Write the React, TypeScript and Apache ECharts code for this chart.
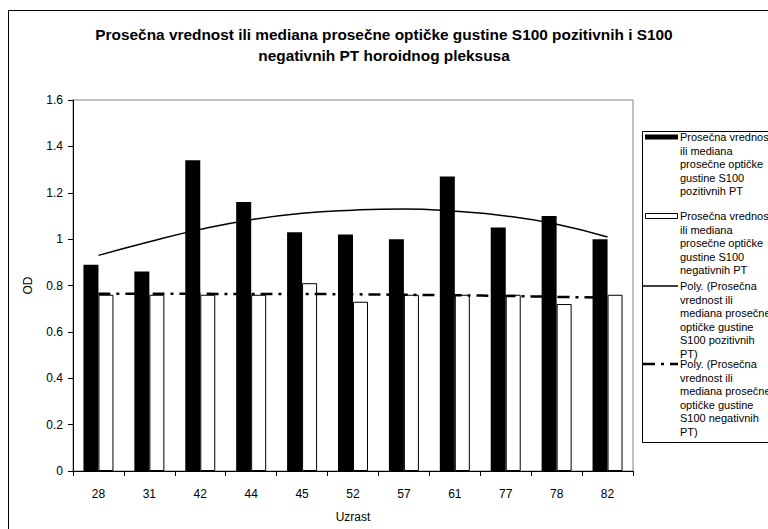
import React, { useEffect, useRef } from "react";
import * as echarts from "echarts";

const categories = ["28", "31", "42", "44", "45", "52", "57", "61", "77", "78", "82"];
const positiveValues = [0.89, 0.86, 1.34, 1.16, 1.03, 1.02, 1.0, 1.27, 1.05, 1.1, 1.0];
const negativeValues = [0.76, 0.76, 0.76, 0.76, 0.81, 0.73, 0.76, 0.76, 0.76, 0.72, 0.76];
const positiveTrend = [0.93, 0.989, 1.042, 1.084, 1.112, 1.125, 1.13, 1.12, 1.1, 1.064, 1.009];
const negativeTrend = [0.764, 0.764, 0.764, 0.763, 0.763, 0.762, 0.76, 0.758, 0.755, 0.751, 0.747];

const titleText =
  "Prosečna vrednost ili mediana prosečne optičke gustine S100 pozitivnih i S100\nnegativnih PT horoidnog pleksusa";
const legendTexts = [
  "Prosečna vrednost\nili mediana\nprosečne optičke\ngustine S100\npozitivnih PT",
  "Prosečna vrednost\nili mediana\nprosečne optičke\ngustine S100\nnegativnih PT",
  "Poly. (Prosečna\nvrednost ili\nmediana prosečne\noptičke gustine\nS100 pozitivnih\nPT)",
  "Poly. (Prosečna\nvrednost ili\nmediana prosečne\noptičke gustine\nS100 negativnih\nPT)",
];

const FONT = "'Liberation Sans', Arial, sans-serif";
const DASH = [12, 6, 3, 6];

export default function App() {
  const ref = useRef<HTMLDivElement>(null);
  useEffect(() => {
    if (!ref.current) return;
    const chart = echarts.init(ref.current, undefined, { renderer: "svg" });
    const LH = 13.5;
    const starts = [137, 216, 286, 364];
    const legendGraphics: any[] = [
      {
        type: "rect",
        shape: { x: 642.5, y: 131.5, width: 200, height: 311 },
        style: { fill: "#fff", stroke: "#000", lineWidth: 1 },
        z: 10,
      },
      {
        type: "rect",
        shape: { x: 645, y: starts[0] - 2.5, width: 33, height: 5 },
        style: { fill: "#000" },
        z: 11,
      },
      {
        type: "rect",
        shape: { x: 645.5, y: starts[1] - 2.5, width: 32, height: 5 },
        style: { fill: "#fff", stroke: "#000", lineWidth: 1 },
        z: 11,
      },
      {
        type: "line",
        shape: { x1: 643, y1: starts[2], x2: 678, y2: starts[2] },
        style: { stroke: "#000", lineWidth: 1.5 },
        z: 11,
      },
      {
        type: "line",
        shape: { x1: 643, y1: starts[3], x2: 678, y2: starts[3] },
        style: { stroke: "#000", lineWidth: 2.5, lineDash: DASH },
        z: 11,
      },
    ];
    legendTexts.forEach((t, i) => {
      legendGraphics.push({
        type: "text",
        x: 680,
        y: starts[i] - LH / 2,
        z: 11,
        style: {
          text: t,
          fill: "#000",
          fontSize: 11,
          fontFamily: FONT,
          lineHeight: LH,
          verticalAlign: "top",
          align: "left",
        },
      });
    });

    chart.setOption({
      animation: false,
      backgroundColor: "#fff",
      title: {
        text: titleText,
        left: "center",
        top: 24,
        padding: 0,
        textStyle: {
          fontSize: 15.4,
          fontWeight: "bold",
          lineHeight: 21,
          color: "#000",
          fontFamily: FONT,
          align: "center",
        },
      },
      grid: {
        left: 73,
        top: 100,
        width: 560,
        height: 371,
        show: true,
        borderColor: "#808080",
        borderWidth: 1,
        backgroundColor: "#fff",
      },
      xAxis: {
        type: "category",
        data: categories,
        name: "Uzrast",
        nameLocation: "middle",
        nameGap: 40,
        nameTextStyle: { fontSize: 12, color: "#000", fontFamily: FONT },
        axisLine: { lineStyle: { color: "#000", width: 1 } },
        axisTick: { show: true, length: 5, lineStyle: { color: "#000" } },
        axisLabel: { fontSize: 12, color: "#000", fontFamily: FONT, margin: 17 },
        splitLine: { show: false },
      },
      yAxis: {
        type: "value",
        min: 0,
        max: 1.6,
        interval: 0.2,
        name: "OD",
        nameLocation: "middle",
        nameGap: 39,
        nameRotate: 90,
        nameTextStyle: { fontSize: 12, color: "#000", fontFamily: FONT },
        axisLine: { show: true, lineStyle: { color: "#000", width: 1 } },
        axisTick: { show: true, length: 5, lineStyle: { color: "#000" } },
        axisLabel: {
          fontSize: 12,
          color: "#000",
          fontFamily: FONT,
          margin: 10,
          formatter: (v: number) => String(Math.round(v * 10) / 10),
        },
        splitLine: { show: false },
      },
      series: [
        {
          type: "bar",
          name: "pozitivni",
          data: positiveValues,
          barWidth: 15,
          barGap: "0%",
          itemStyle: { color: "#000" },
        },
        {
          type: "bar",
          name: "negativni",
          data: negativeValues,
          barWidth: 15,
          barGap: "0%",
          itemStyle: { color: "#fff", borderColor: "#000", borderWidth: 1 },
        },
        {
          type: "line",
          name: "poly pozitivni",
          data: positiveTrend,
          smooth: 0.5,
          symbol: "none",
          lineStyle: { color: "#000", width: 1.5 },
          z: 5,
        },
        {
          type: "line",
          name: "poly negativni",
          data: negativeTrend,
          smooth: 0.5,
          symbol: "none",
          lineStyle: { color: "#000", width: 2.5, type: DASH },
          z: 5,
        },
      ],
      graphic: [
        {
          type: "rect",
          shape: { x: 8.5, y: 10.5, width: 800, height: 600 },
          style: { fill: "none", stroke: "#000", lineWidth: 1 },
          z: 1,
          silent: true,
        },
        ...legendGraphics,
      ],
    });
    return () => chart.dispose();
  }, []);
  return (
    <div
      ref={ref}
      style={{ position: "fixed", left: 0, top: 0, width: 768, height: 529, background: "#fff" }}
    />
  );
}
